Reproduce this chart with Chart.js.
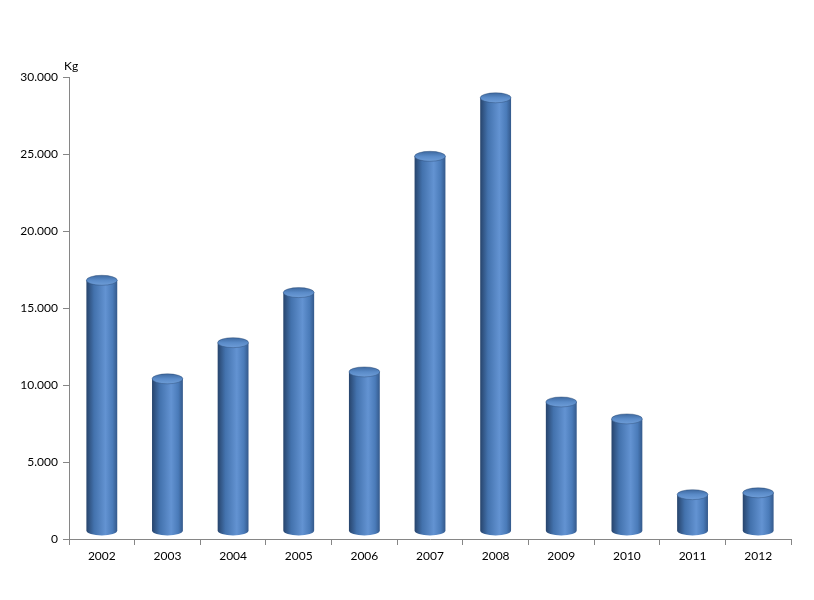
<!DOCTYPE html>
<html>
<head>
<meta charset="utf-8">
<script src="https://cdn.jsdelivr.net/npm/chart.js@4"></script>
<style>
  html, body { margin: 0; padding: 0; background: #ffffff; }
  #wrap { width: 814px; height: 600px; }
</style>
</head>
<body>
<div id="wrap"><canvas id="c" width="814" height="600"></canvas></div>
<script>
const categories = ['2002','2003','2004','2005','2006','2007','2008','2009','2010','2011','2012'];
const values = [16800, 10400, 12750, 16000, 10850, 24850, 28650, 8900, 7800, 2880, 3000];
const unitLabel = 'Kg';
const yMax = 30000;
const yStep = 5000;

function fmt(v) {
  return String(v).replace(/\B(?=(\d{3})+(?!\d))/g, '.');
}

const cylinderPlugin = {
  id: 'cylinder',
  afterDatasetsDraw(chart) {
    const ctx = chart.ctx;
    const meta = chart.getDatasetMeta(0);
    ctx.save();
    meta.data.forEach(bar => {
      const w = bar.width;
      const left = bar.x - w / 2, right = bar.x + w / 2;
      const rx = w / 2, ry = 5;
      const top = bar.y, base = bar.base - 3;
      const g = ctx.createLinearGradient(left, 0, right, 0);
      g.addColorStop(0, '#27446c');
      g.addColorStop(0.25, '#4372ad');
      g.addColorStop(0.62, '#6393d2');
      g.addColorStop(0.85, '#4a7bb9');
      g.addColorStop(1, '#34598b');
      ctx.fillStyle = g;
      ctx.beginPath();
      ctx.moveTo(left, top);
      ctx.lineTo(left, base - ry);
      ctx.ellipse(bar.x, base - ry, rx, ry, 0, Math.PI, 0, true);
      ctx.lineTo(right, top);
      ctx.closePath();
      ctx.fill();
      // top cap
      const tg = ctx.createLinearGradient(0, top - ry, 0, top + ry);
      tg.addColorStop(0, '#3d689f');
      tg.addColorStop(0.5, '#5a8bc8');
      tg.addColorStop(1, '#6e9dd8');
      ctx.fillStyle = tg;
      ctx.beginPath();
      ctx.ellipse(bar.x, top, rx, ry, 0, 0, Math.PI * 2);
      ctx.fill();
      ctx.strokeStyle = 'rgba(40,70,110,0.5)';
      ctx.lineWidth = 0.8;
      ctx.stroke();
    });
    // unit label
    const ys = chart.scales.y;
    ctx.fillStyle = '#000000';
    ctx.font = '12px Lato, "Open Sans", sans-serif';
    ctx.textAlign = 'left';
    ctx.textBaseline = 'bottom';
    ctx.fillText(unitLabel, ys.right - 5, chart.chartArea.top - 5);
    ctx.restore();
  }
};

new Chart(document.getElementById('c'), {
  type: 'bar',
  data: {
    labels: categories,
    datasets: [{
      data: values,
      backgroundColor: 'rgba(0,0,0,0)',
      borderWidth: 0,
      barPercentage: 0.47,
      categoryPercentage: 1.0
    }]
  },
  options: {
    responsive: false,
    animation: false,
    devicePixelRatio: 1,
    layout: { padding: { top: 77, right: 23, bottom: 0, left: 0 } },
    plugins: { legend: { display: false }, tooltip: { enabled: false } },
    scales: {
      x: {
        grid: { display: true, drawOnChartArea: false, offset: true, color: '#868686', tickLength: 6 },
        border: { display: true, color: '#868686' },
        ticks: { color: '#000000', font: { family: 'Lato, "Open Sans", sans-serif', size: 12 }, padding: 4, maxRotation: 0 },
        afterFit(s) { s.height = 61; }
      },
      y: {
        min: 0, max: yMax,
        grid: { display: true, drawOnChartArea: false, color: '#868686', tickLength: 6 },
        border: { display: true, color: '#868686' },
        ticks: { stepSize: yStep, color: '#000000', font: { family: 'Lato, "Open Sans", sans-serif', size: 12 }, padding: 5, callback: v => fmt(v) },
        afterFit(s) { s.width = 69; }
      }
    }
  },
  plugins: [cylinderPlugin]
});
</script>
</body>
</html>
